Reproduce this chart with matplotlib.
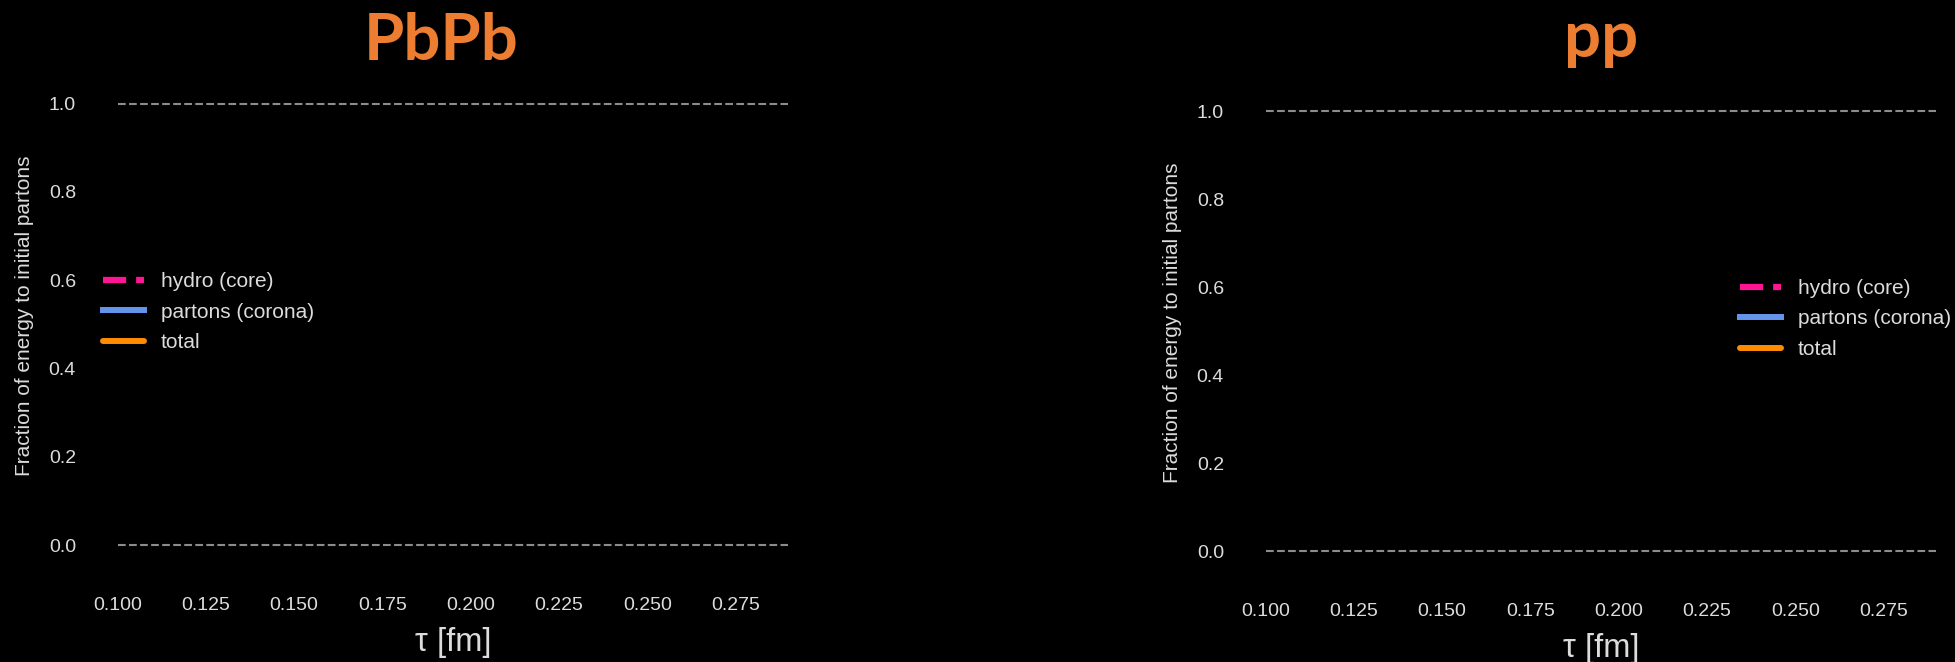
import matplotlib
matplotlib.use("Agg")
import matplotlib.pyplot as plt
from matplotlib.ticker import FormatStrFormatter

plt.rcParams["font.family"] = ["Liberation Sans", "DejaVu Sans"]

# Panels and series (no samples recorded yet for the energy fractions)
panel_titles = ["PbPb", "pp"]
series_labels = ["hydro (core)", "partons (corona)", "total"]
tau_hydro = []
frac_hydro = []
tau_partons = []
frac_partons = []
tau_total = []
frac_total = []

# Reference levels and time window
tau_window = [0.100, 0.290]
reference_levels = [0.0, 1.0]
x_ticks = [0.100, 0.125, 0.150, 0.175, 0.200, 0.225, 0.250, 0.275]
y_ticks = [0.0, 0.2, 0.4, 0.6, 0.8, 1.0]

W, H = 1955, 662
fig = plt.figure(figsize=(W / 100, H / 100), dpi=100, facecolor="black")

TXT = "#dcdcdc"
TITLE_C = "#ED7D31"

# axes boxes in pixels: left, top, right, bottom
boxes = [(84, 59.4, 822, 589.2), (1232, 67, 1970, 595)]
legend_loc = ["center left", "center right"]
legend_anchor = [(0.0, 0.523), (1.0, 0.523)]
title_pos = [(441, 60), (1601, 57)]

for i, (l, t, r, b) in enumerate(boxes):
    ax = fig.add_axes([l / W, (H - b) / H, (r - l) / W, (b - t) / H])
    ax.set_facecolor("black")
    for s in ax.spines.values():
        s.set_visible(False)

    ax.hlines(reference_levels, tau_window[0], tau_window[1],
              colors="#8c8c8c", linestyles="--", linewidth=1.5)

    ax.plot(tau_hydro, frac_hydro, color="#FF1493", linestyle="--",
            linewidth=4.5, label=series_labels[0])
    ax.plot(tau_partons, frac_partons, color="#6495ED", linestyle="-",
            linewidth=4.3, label=series_labels[1])
    ax.plot(tau_total, frac_total, color="#FF8C00", linestyle="-",
            linewidth=4.3, solid_capstyle="round", label=series_labels[2])

    ax.set_xlim(0.0905, 0.2995)
    ax.set_ylim(-0.1, 1.1)
    ax.set_xticks(x_ticks)
    ax.set_yticks(y_ticks)
    ax.xaxis.set_major_formatter(FormatStrFormatter("%.3f"))
    ax.yaxis.set_major_formatter(FormatStrFormatter("%.1f"))
    ax.tick_params(length=0, pad=5.8, labelsize=14, labelcolor=TXT)

    ax.set_xlabel("τ [fm]", fontsize=23.5, color=TXT)
    ax.xaxis.set_label_coords(0.5, -0.101)
    ax.xaxis.label.set_va("center")
    ax.set_ylabel("Fraction of energy to initial partons", fontsize=15, color=TXT)
    ax.yaxis.set_label_coords(-0.08, 0.516)
    ax.yaxis.label.set_va("center")

    leg = ax.legend(loc=legend_loc[i], bbox_to_anchor=legend_anchor[i],
                    frameon=False, fontsize=15, labelspacing=0.55,
                    handlelength=2.0, handletextpad=0.8)
    for txt in leg.get_texts():
        txt.set_color(TXT)

    tx, ty = title_pos[i]
    fig.text(tx / W, (H - ty) / H, panel_titles[i], ha="center", va="baseline",
             fontsize=47, fontweight="bold", color=TITLE_C,
             family=["Lato", "DejaVu Sans"])

fig.savefig("out.png", dpi=100, facecolor="black")
